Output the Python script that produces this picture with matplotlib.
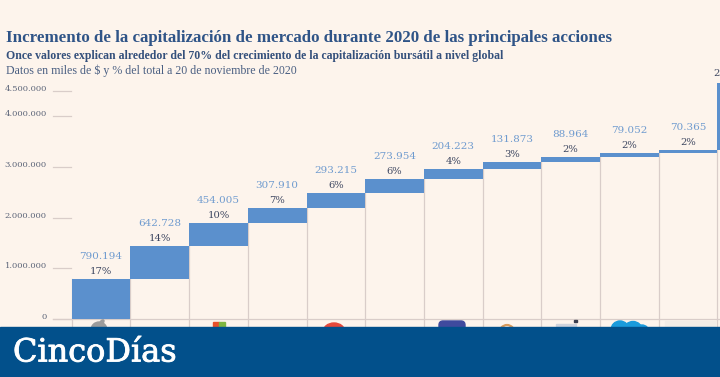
import matplotlib
matplotlib.use("Agg")
import matplotlib.pyplot as plt
import matplotlib.patheffects as pe
from matplotlib.patches import Rectangle, Ellipse, FancyBboxPatch
from matplotlib.transforms import IdentityTransform

# ── Data ─────────────────────────────────────
valores = [790194, 642728, 454005, 307910, 293215, 273954, 204223, 131873, 88964, 79052, 70365, 1334000]
etiquetas = ["790.194", "642.728", "454.005", "307.910", "293.215", "273.954",
             "204.223", "131.873", "88.964", "79.052", "70.365", ""]
porcentajes = ["17%", "14%", "10%", "7%", "6%", "6%", "4%", "3%", "2%", "2%", "2%", "28%"]
yticks = [0, 1000000, 2000000, 3000000, 4000000, 4500000]
yticklabels = ["0", "1.000.000", "2.000.000", "3.000.000", "4.000.000", "4.500.000"]

W, H = 720, 377
BG = "#fdf4ec"
BLUE = "#5b90cd"
GREY = "#d9cdc9"
SERIF = ["DejaVu Serif"]
TITLE_SERIF = ["Liberation Serif"]

fig = plt.figure(figsize=(W / 100, H / 100), dpi=100, facecolor=BG)

# axes in pixel box: x=0 at 71.7px, one bar = 58.7px; y=0 at 318.6px, 1M = 50.55px
left, step = 71.7, 58.7
y0, per_unit = 318.6, 50.55e-6
n_x = (W - left) / step
top_val = y0 / per_unit
ax = fig.add_axes([left / W, (H - y0) / H, (W - left) / W, y0 / H])
ax.set_xlim(0, n_x)
ax.set_ylim(0, top_val)
ax.patch.set_alpha(0)
ax.axis("off")

below = -200000  # grid runs on under the base line, behind the banner
bottom = 0
for i, v in enumerate(valores):
    ax.plot([i + 1, i + 1], [below, bottom + v], color=GREY, lw=0.9, zorder=1, clip_on=False)
    ax.bar(i, v, width=1, bottom=bottom, align="edge", color=BLUE, zorder=2)
    if etiquetas[i]:
        ax.annotate(etiquetas[i], (i + 0.5, bottom + v), xytext=(0, 18), textcoords="offset pixels",
                    ha="center", va="bottom", color="#6f9bcf", fontsize=7.5, family=SERIF)
        ax.annotate(porcentajes[i], (i + 0.5, bottom + v), xytext=(0, 3), textcoords="offset pixels",
                    ha="center", va="bottom", color="#3d4660", fontsize=7.2, family=SERIF)
    else:
        # last label is cut by the right edge of the picture
        ax.annotate(porcentajes[i], (i - 0.07, bottom + v), xytext=(0, 5), textcoords="offset pixels",
                    ha="left", va="bottom", color="#3d4660", fontsize=7.2, family=SERIF)
    bottom += v

ax.plot([0, 0], [below, valores[0]], color=GREY, lw=0.9, zorder=1, clip_on=False)
ax.plot([-0.32, n_x], [0, 0], color=GREY, lw=0.9, zorder=1, clip_on=False)

# y ticks are drawn by hand because they sit left of the axes box
for t, lab in zip(yticks, yticklabels):
    ax.plot([-0.32, -0.01], [t, t], color=GREY, lw=0.9, clip_on=False, zorder=1)
    ax.annotate(lab, (-0.32, t), xytext=(-6, 2), textcoords="offset pixels", ha="right", va="center",
                color="#5b6478", fontsize=6.0, family=SERIF, annotation_clip=False)

# ── Logos, only their tops show above the banner ─────────────────────────────
def logo(patch):
    patch.set_transform(IdentityTransform())
    patch.set_zorder(3)
    fig.add_artist(patch)

def py(y):
    return H - y

logo(Ellipse((99, py(330)), 16, 16, color="#9c9c9c"))
logo(Ellipse((102, py(322)), 3, 5, angle=-40, color="#9c9c9c"))
logo(Rectangle((213, py(330)), 6, 8, color="#e8502a"))
logo(Rectangle((219, py(330)), 6, 8, color="#7eb640"))
logo(Ellipse((334, py(332)), 22, 18, color="#e5483a"))
logo(FancyBboxPatch((439, py(335)), 26, 14, boxstyle="round,pad=0,rounding_size=4", color="#3f4a9e"))
logo(Ellipse((507, py(334)), 16, 18, fc="none", ec="#d99a5a", lw=1.6))
logo(Rectangle((556, py(326)), 20, 2, color="#cfd3dc"))
logo(Rectangle((574, py(322)), 3, 1.6, color="#3a3f50"))
logo(Ellipse((620, py(330)), 18, 18, color="#1a9bdc"))
logo(Ellipse((633, py(330)), 18, 17, color="#1a9bdc"))
logo(Ellipse((642, py(332)), 14, 14, color="#1a9bdc"))
logo(Rectangle((665, py(327)), 50, 6, color="#f4ede6"))

# ── Titles ─────────────────────────────────────
fig.text(6 / W, 1 - 38 / H, "Incremento de la capitalización de mercado durante 2020 de las principales acciones",
         color="#2f5487", fontsize=12.2, fontweight="bold", family=TITLE_SERIF, va="center")
fig.text(6 / W, 1 - 55.5 / H, "Once valores explican alrededor del 70% del crecimiento de la capitalización bursátil a nivel global",
         color="#34507c", fontsize=8.48, fontweight="bold", family=TITLE_SERIF, va="center")
fig.text(6 / W, 1 - 71 / H, "Datos en miles de $ y % del total a 20 de noviembre de 2020",
         color="#4a5f82", fontsize=8.53, family=TITLE_SERIF, va="center")

# ── Banner ─────────────────────────────────────
fig.add_artist(Rectangle((0, 0), 1, (H - 327) / H, transform=fig.transFigure, color="#02508b", zorder=5))
banner_txt = fig.text(13 / W, 1 - 353 / H, "CincoDías", color="white", fontsize=23, family=SERIF,
                      va="center", zorder=6)
banner_txt.set_path_effects([pe.withStroke(linewidth=0.6, foreground="white")])

fig.savefig("out.png", dpi=100, facecolor=BG)
